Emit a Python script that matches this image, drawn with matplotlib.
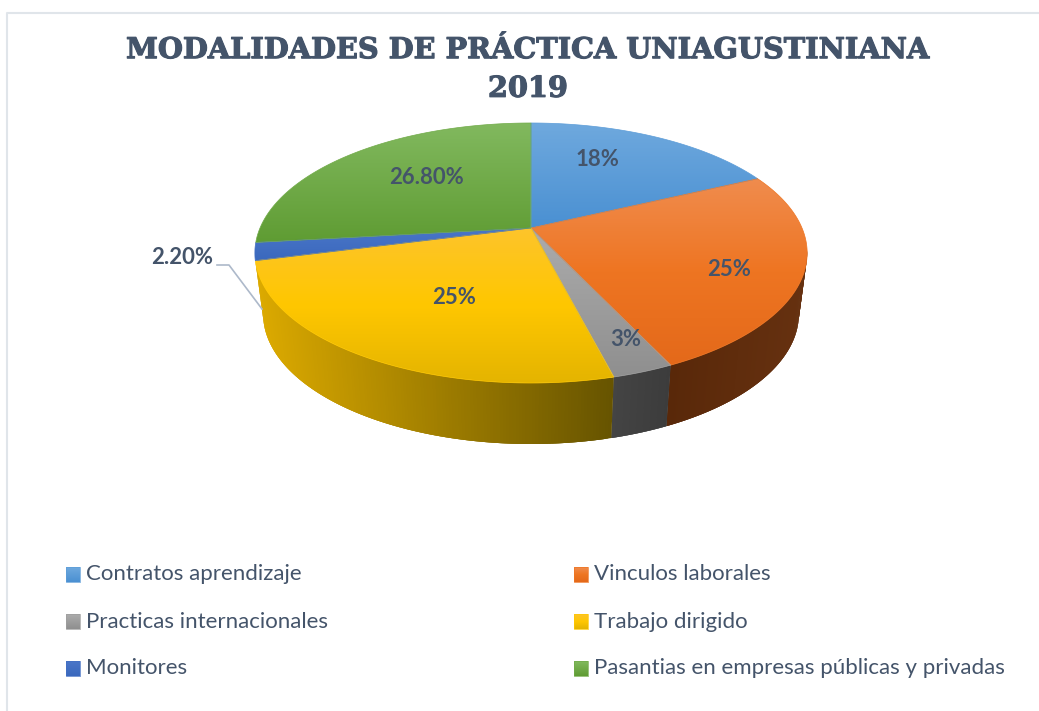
import numpy as np
import matplotlib
matplotlib.use('Agg')
import matplotlib.pyplot as plt
import matplotlib.patheffects as pe
from matplotlib.patches import Polygon
from matplotlib.collections import PolyCollection

title = 'MODALIDADES DE PRÁCTICA UNIAGUSTINIANA\n2019'
categories = ['Contratos aprendizaje', 'Vinculos laborales', 'Practicas internacionales',
              'Trabajo dirigido', 'Monitores', 'Pasantias en empresas públicas y privadas']
values = [18, 25, 3, 25, 2.2, 26.8]
value_labels = ['18%', '25%', '3%', '25%', '2.20%', '26.80%']

# top face gradient, upper to lower colour
top_colors = [('#6fa9de', '#4a90d2'), ('#f08c4e', '#ee7522', '#e4691a'), ('#acacac', '#8f8f8f'),
              ('#fdc42c', '#ffc700', '#e4b400'), ('#4a76c8', '#3a68bd'), ('#82b95f', '#5f9c33')]
# side wall gradient, left to right colour, only slices at the front
wall_colors = {1: ('#592809', '#663110'), 2: ('#444444', '#3c3c3c'), 3: ('#dcaa00', '#675400')}

text_col = '#44546a'
label_xy = [(597, 160), (729, 270), (626, 339), (454, 298), (182, 258), (427, 178)]
legend_xy = [(66, 574.5), (574, 574.5), (66, 621.5), (574, 621.5), (66, 668.5), (574, 668.5)]

fig = plt.figure(figsize=(10.39, 7.11), dpi=100)
ax = fig.add_axes([0, 0, 1, 1])


# unit circle of the pie -> picture, with some perspective
def project(theta, wall=False):
    u = np.sin(theta)
    v = np.cos(theta)
    den = 1 + 0.1923 * v
    x = 531 + 271 * u / den
    y = (228 - 81.35 * v) / den
    if wall:
        x = 531 + 0.97 * (x - 531)
        y = y + 61
    return x, y


def ramp(cols, t):
    cols = np.array([matplotlib.colors.to_rgb(c) for c in cols])
    s = np.linspace(0, 1, len(cols))
    return np.column_stack([np.interp(t, s, cols[:, k]) for k in range(3)])


def gradient(poly, cols, z):
    g = ramp(cols, np.linspace(0, 1, 256))[:, None, :]
    x0, y0 = poly.min(axis=0)
    x1, y1 = poly.max(axis=0)
    im = ax.imshow(g, extent=[x0, x1, y1, y0], aspect='auto', zorder=z, interpolation='bilinear')
    p = Polygon(poly, closed=True, transform=ax.transData, fc='none', ec='none')
    ax.add_patch(p)
    im.set_clip_path(p)
    # jagged clip edge, a thin line hides it
    ax.add_patch(Polygon(poly, closed=True, fc='none', ec=ramp(cols, [0.5])[0], lw=0.5, zorder=z + 0.1))


edges = np.radians(np.cumsum([0] + values) * 3.6)

# walls as overlapping strips, keeps the outer edge smooth and shows no seams
for i in wall_colors:
    a = max(edges[i], np.radians(100))
    b = min(edges[i + 1], np.radians(259))
    t = np.linspace(a, b, 160)
    tx, ty = project(t)
    bx, by = project(t, wall=True)
    quads = []
    for k in range(len(t) - 1):
        e = min(k + 3, len(t) - 1)
        quads.append(np.r_[np.column_stack([tx[k:e + 1], ty[k:e + 1]]),
                           np.column_stack([bx[k:e + 1], by[k:e + 1]])[::-1]])
    mx = (tx[:-1] + tx[1:]) / 2
    frac = (mx - mx.min()) / (mx.max() - mx.min())
    cc = ramp(wall_colors[i], frac)
    ax.add_collection(PolyCollection(quads, facecolors=cc, edgecolors='none', zorder=1))

for i in range(len(values)):
    t = np.linspace(edges[i], edges[i + 1], 150)
    x, y = project(t)
    poly = np.column_stack([np.r_[531, x], np.r_[228, y]])
    gradient(poly, top_colors[i], 2)

# leader line of the small slice
ax.plot([217, 229, 262], [265, 265, 309], color='#adb9ca', lw=1.2, zorder=3)

for i, lab in enumerate(value_labels):
    ax.text(label_xy[i][0], label_xy[i][1], lab, ha='center', va='center', family='Lato',
            fontweight='bold', fontsize=15.9, color=text_col, zorder=4)

for i, cat in enumerate(categories):
    lx, ly = legend_xy[i]
    sq = np.array([[lx, ly - 7.5], [lx + 14, ly - 7.5], [lx + 14, ly + 7.5], [lx, ly + 7.5]])
    gradient(sq, top_colors[i], 2)
    ax.text(lx + 19.5, ly, cat, ha='left', va='center', family='Lato', fontsize=16, color=text_col)

ax.text(528, 69, title, ha='center', va='center', family='DejaVu Serif', fontweight='bold',
        fontsize=20.7, color=text_col, linespacing=1.42,
        path_effects=[pe.withStroke(linewidth=0.8, foreground=text_col)])

# frame of the chart, cut off on the right and at the bottom
ax.plot([7, 7, 1039], [711, 13, 13], color='#e0e5ea', lw=1.5, zorder=0)

ax.set_xlim(0, 1039)
ax.set_ylim(711, 0)
ax.axis('off')

fig.savefig('out.png', dpi=100, facecolor='white')
